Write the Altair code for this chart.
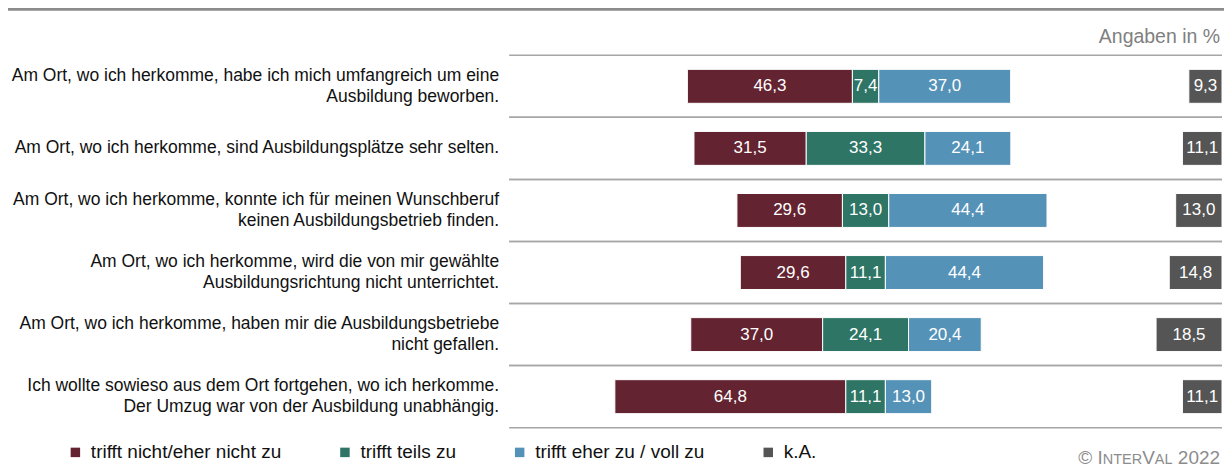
import altair as alt
import pandas as pd

statements = [
    "Am Ort, wo ich herkomme, habe ich mich umfangreich um eine\nAusbildung beworben.",
    "Am Ort, wo ich herkomme, sind Ausbildungsplätze sehr selten.",
    "Am Ort, wo ich herkomme, konnte ich für meinen Wunschberuf\nkeinen Ausbildungsbetrieb finden.",
    "Am Ort, wo ich herkomme, wird die von mir gewählte\nAusbildungsrichtung nicht unterrichtet.",
    "Am Ort, wo ich herkomme, haben mir die Ausbildungsbetriebe\nnicht gefallen.",
    "Ich wollte sowieso aus dem Ort fortgehen, wo ich herkomme.\nDer Umzug war von der Ausbildung unabhängig.",
]
nicht = [46.3, 31.5, 29.6, 29.6, 37.0, 64.8]
teils = [7.4, 33.3, 13.0, 11.1, 24.1, 11.1]
eher = [37.0, 24.1, 44.4, 44.4, 20.4, 13.0]
ka = [9.3, 11.1, 13.0, 14.8, 18.5, 11.1]

categories = ["trifft nicht/eher nicht zu", "trifft teils zu", "trifft eher zu / voll zu", "k.A."]
colors = ["#632330", "#2e7565", "#5592b8", "#555555"]

FONT = "Liberation Sans"
W, H = 714, 373
BAND = H / len(statements)
LH = 21

ids = [f"s{i}" for i in range(len(statements))]

rows = []
for i, sid in enumerate(ids):
    r, g, b, k = nicht[i], teils[i], eher[i], ka[i]
    segs = [
        (categories[0], -(g / 2 + r), -g / 2, r),
        (categories[1], -g / 2, g / 2, g),
        (categories[2], g / 2, g / 2 + b, b),
        (categories[3], 100 - k, 100, k),
    ]
    for cat, x0, x1, v in segs:
        rows.append({
            "id": sid, "cat": cat, "x0": x0, "x1": x1,
            "mid": (x0 + x1) / 2,
            "txt": f"{v:.1f}".replace(".", ","),
        })
df = pd.DataFrame(rows)
lab = pd.DataFrame({"id": ids, "label": statements})
lab["nlines"] = lab["label"].str.count("\n") + 1
lab1 = lab[lab["nlines"] == 1]
lab2 = lab[lab["nlines"] == 2]
one = pd.DataFrame({"k": [0]})

xs = alt.Scale(domain=[-100, 100], nice=False, zero=False)
ys = alt.Scale(domain=ids, paddingInner=0, paddingOuter=0)


def Y():
    return alt.Y("id:N", scale=ys, axis=None)


bars = alt.Chart(df).mark_bar(stroke="white", strokeWidth=1).encode(
    x=alt.X("x0:Q", scale=xs, axis=None),
    x2="x1:Q",
    y=Y(),
    size=alt.value(34),
    color=alt.Color(
        "cat:N",
        scale=alt.Scale(domain=categories, range=colors),
        legend=alt.Legend(
            title=None, orient="none", legendX=-444, legendY=388,
            direction="horizontal", symbolType="square", symbolSize=90,
            symbolStrokeWidth=0, labelFontSize=19, labelFont=FONT, labelLimit=0,
            labelColor="#111111", columnPadding=54, labelOffset=6, padding=0,
        ),
    ),
)

values = alt.Chart(df).mark_text(font=FONT, fontSize=17, color="white", baseline="middle").encode(
    x=alt.X("mid:Q", scale=xs, axis=None),
    y=Y(),
    text="txt:N",
)

label_style = dict(font=FONT, fontSize=17.5, color="#111111", align="right", baseline="middle",
                   lineBreak="\n", lineHeight=LH)
labels1 = alt.Chart(lab1).mark_text(**label_style).encode(
    x=alt.value(-10), y=Y(), text="label:N",
)
labels2 = alt.Chart(lab2).mark_text(dy=-LH / 2, **label_style).encode(
    x=alt.value(-10), y=Y(), text="label:N",
)

sep_top = alt.Chart(lab).mark_rule(color="#a6a6a6", strokeWidth=1.5, yOffset=-BAND / 2).encode(
    y=Y(),
    x=alt.value(0), x2=alt.value(W),
)
sep_bot = alt.Chart(lab).mark_rule(color="#a6a6a6", strokeWidth=1.5, yOffset=BAND / 2).encode(
    y=Y(),
    x=alt.value(0), x2=alt.value(W),
)

top_bar = alt.Chart(one).mark_rule(color="#8c8c8c", strokeWidth=3).encode(
    x=alt.value(-502), x2=alt.value(W + 10), y=alt.value(-46)
)

angaben = alt.Chart(one).mark_text(
    text="Angaben in %", font=FONT, fontSize=19.5, color="#808080", align="right", baseline="middle"
).encode(x=alt.value(712), y=alt.value(-18))

cpy = []
pieces = [("2022", 19, 712), ("AL", 14.5, 664.4), ("V", 19, 646.7), ("NTER", 14.5, 634.0), ("© I", 19, 594.5)]
for t, fs, xr in pieces:
    cpy.append(
        alt.Chart(one).mark_text(
            text=t, font=FONT, fontSize=fs, color="#8c8c8c", align="right", baseline="alphabetic"
        ).encode(x=alt.value(xr), y=alt.value(409))
    )

chart = alt.layer(sep_top, sep_bot, top_bar, bars, values, labels1, labels2, angaben, *cpy).properties(
    width=W, height=H,
    padding={"left": 502, "top": 47, "right": 2, "bottom": 40},
    autosize=alt.AutoSizeParams(type="none"),
).configure_view(strokeWidth=0)

chart.save("out.html", embed_options={"renderer": "svg", "actions": False})
